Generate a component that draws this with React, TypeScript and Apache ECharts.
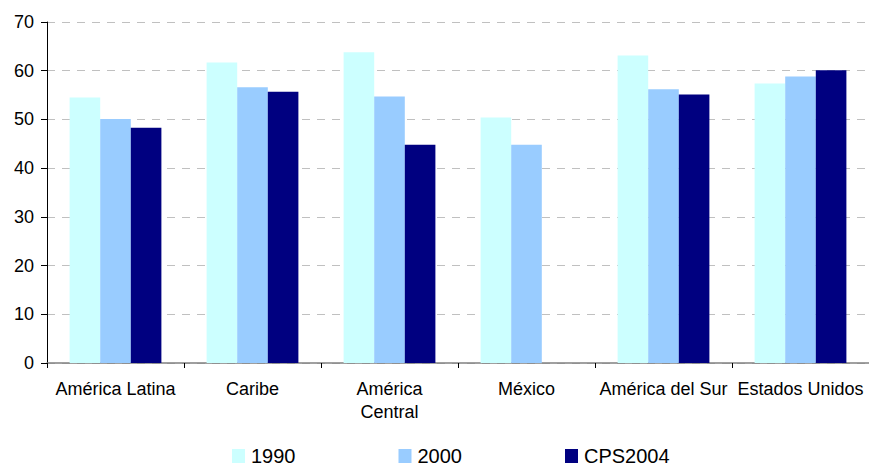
import React, { useEffect, useRef } from "react";
import * as echarts from "echarts";

const categories = ["América Latina", "Caribe", "América Central", "México", "América del Sur", "Estados Unidos"];
const seriesNames = ["1990", "2000", "CPS2004"];
const values1990 = [54.5, 61.7, 63.8, 50.4, 63.1, 57.4];
const values2000 = [50.1, 56.6, 54.7, 44.8, 56.2, 58.8];
const valuesCPS2004 = [48.3, 55.7, 44.8, null, 55.1, 60.1];
const colors = ["#CCFFFF", "#99CCFF", "#000080"];
const yTicks = { min: 0, max: 70, interval: 10 };

const FONT = '"Liberation Sans", Arial, sans-serif';

export default function App() {
  const ref = useRef<HTMLDivElement>(null);
  useEffect(() => {
    if (!ref.current) return;
    const chart = echarts.init(ref.current, null, { renderer: "svg" });
    const data = [values1990, values2000, valuesCPS2004];
    chart.setOption({
      animation: false,
      textStyle: { fontFamily: FONT },
      grid: { left: 47, top: 22, width: 824, height: 341, containLabel: false },
      legend: {
        data: seriesNames,
        left: 232,
        top: 446,
        padding: 0,
        itemWidth: 13,
        itemHeight: 14,
        itemGap: 103,
        icon: "rect",
        textStyle: { fontSize: 20, color: "#000", fontFamily: FONT, padding: [0, 0, 0, 1] },
      },
      xAxis: {
        type: "category",
        data: categories,
        axisLine: { lineStyle: { color: "#808080", width: 1.5 } },
        axisTick: { show: true, length: 5, lineStyle: { color: "#000" }, alignWithLabel: false },
        axisLabel: {
          interval: 0,
          fontSize: 18,
          color: "#000",
          fontFamily: FONT,
          margin: 14,
          lineHeight: 23,
          formatter: (v: string) => (v === "América Central" ? "América\nCentral" : v),
        },
        splitLine: { show: false },
      },
      yAxis: {
        type: "value",
        min: yTicks.min,
        max: yTicks.max,
        interval: yTicks.interval,
        axisLine: { show: true, lineStyle: { color: "#000", width: 1 } },
        axisTick: { show: true, length: 6, lineStyle: { color: "#000" } },
        axisLabel: { fontSize: 18, color: "#000", fontFamily: FONT, margin: 13 },
        splitLine: { show: true, lineStyle: { color: "#c0c0c0", type: [8, 7], width: 1 } },
      },
      series: seriesNames.map((name, i) => ({
        name,
        type: "bar",
        data: data[i],
        itemStyle: { color: colors[i] },
        barGap: "0%",
        barCategoryGap: "33%",
      })),
    });
    return () => chart.dispose();
  }, []);
  return <div ref={ref} style={{ width: 869, height: 466, position: "absolute", left: 0, top: 0 }} />;
}
